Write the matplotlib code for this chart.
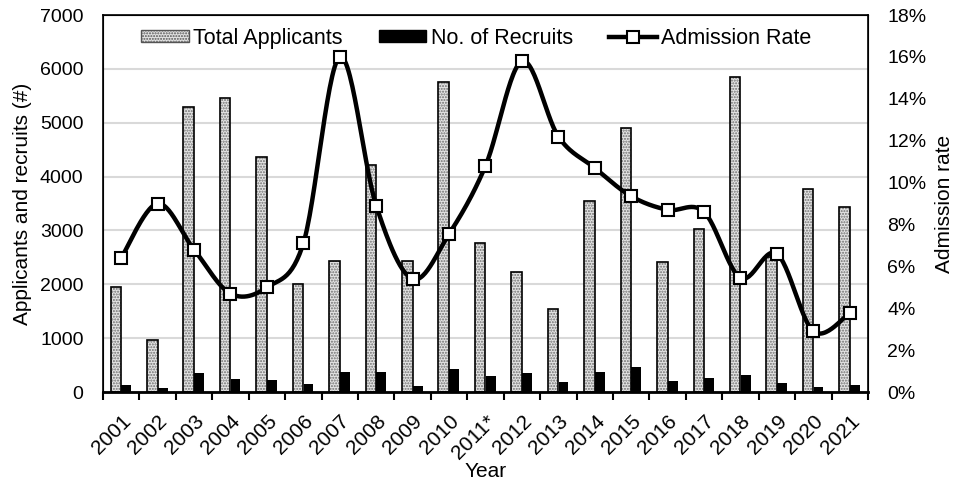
import numpy as np
import matplotlib.pyplot as plt
from matplotlib.lines import Line2D
from matplotlib.patches import Patch

plt.rcParams['font.family'] = ['Liberation Sans', 'DejaVu Sans']
plt.rcParams['hatch.linewidth'] = 1.0

years = ["2001", "2002", "2003", "2004", "2005", "2006", "2007", "2008", "2009", "2010",
         "2011*", "2012", "2013", "2014", "2015", "2016", "2017", "2018", "2019", "2020", "2021"]
applicants = [1950, 960, 5300, 5460, 4370, 2000, 2440, 4220, 2430, 5760,
              2760, 2220, 1550, 3550, 4900, 2410, 3020, 5850, 2500, 3770, 3430]
recruits = [130, 75, 360, 250, 215, 140, 380, 370, 120, 420,
            290, 350, 185, 370, 460, 205, 260, 315, 165, 100, 125]
rate = [6.4, 9.0, 6.8, 4.7, 5.0, 7.1, 16.0, 8.9, 5.4, 7.55,
        10.8, 15.8, 12.2, 10.7, 9.35, 8.7, 8.6, 5.45, 6.6, 2.9, 3.77]


def smooth(x, y, n=30):
    # excel style smoothed line (catmull-rom bezier)
    x = np.asarray(x, float)
    y = np.asarray(y, float)
    px = np.concatenate([[x[0]], x, [x[-1]]])
    py = np.concatenate([[y[0]], y, [y[-1]]])
    xs, ys = [], []
    t = np.linspace(0, 1, n)
    for i in range(1, len(px) - 2):
        p0 = np.array([px[i], py[i]])
        p3 = np.array([px[i + 1], py[i + 1]])
        c1 = p0 + (p3 - np.array([px[i - 1], py[i - 1]])) / 6
        c2 = p3 - (np.array([px[i + 2], py[i + 2]]) - p0) / 6
        b = ((1 - t) ** 3)[:, None] * p0 + (3 * (1 - t) ** 2 * t)[:, None] * c1 \
            + (3 * (1 - t) * t ** 2)[:, None] * c2 + (t ** 3)[:, None] * p3
        xs.extend(b[:, 0])
        ys.extend(b[:, 1])
    return np.array(xs), np.array(ys)


x = np.arange(len(years))
fig = plt.figure(figsize=(9.57, 4.87), dpi=100)
ax = fig.add_axes([0.1076, 0.195, 0.7994, 0.774])

ax.bar(x - 0.145, applicants, 0.29, color='#e4e4e4', edgecolor='#6e6e6e', hatch='......', lw=0, zorder=2)
ax.bar(x - 0.145, applicants, 0.29, fill=False, edgecolor='black', lw=1.2, zorder=3)
ax.bar(x + 0.14, recruits, 0.27, color='black', zorder=3)

ax.set_xlim(-0.5, len(years) - 0.5)
ax.set_ylim(0, 7000)
ax.set_yticks(range(0, 7001, 1000))
ax.yaxis.grid(True, color='#d9d9d9', lw=1.5, zorder=0)
ax.set_axisbelow(True)
ax.set_xticks(np.arange(-0.5, len(years), 1))
ax.set_xticklabels([])
ax.set_xticks(x, minor=True)
ax.set_xticklabels(years, minor=True, rotation=45, ha='right', rotation_mode='anchor', fontsize=15)
ax.tick_params(axis='x', which='major', length=6, width=1.5, direction='out')
ax.tick_params(axis='x', which='minor', length=0, pad=14)
ax.tick_params(axis='y', length=0, labelsize=14, pad=14)
for s in ax.spines.values():
    s.set_linewidth(1.2)
ax.spines['bottom'].set_linewidth(2)
ax.set_ylabel('Applicants and recruits (#)', fontsize=15, labelpad=6)
ax.set_xlabel('Year', fontsize=15, labelpad=0)

ax2 = ax.twinx()
ax2.set_ylim(0, 18)
ax2.set_yticks(range(0, 19, 2))
ax2.set_yticklabels([f'{v}%' for v in range(0, 19, 2)])
ax2.tick_params(axis='y', length=0, labelsize=14, pad=14)
sx, sy = smooth(x, rate)
ax2.plot(sx, sy, color='black', lw=3.2, zorder=4, solid_capstyle='round')
ax2.plot(x, rate, ls='none', marker='s', ms=9, mfc='white', mec='black', mew=1.5, zorder=5)
ax2.set_ylabel('Admission rate', fontsize=15, labelpad=6)

handles = [Patch(facecolor='#e4e4e4', edgecolor='#555555', hatch='......'),
           Patch(facecolor='black', edgecolor='black'),
           Line2D([], [], color='black', lw=3.2, marker='s', ms=9, mfc='white', mec='black', mew=1.5)]
ax.legend(handles, ['Total Applicants', 'No. of Recruits', 'Admission Rate'], ncol=3,
          loc='upper center', bbox_to_anchor=(0.488, 1.018), frameon=False, fontsize=15.5,
          handlelength=2.2, handleheight=0.5, handletextpad=0.2, columnspacing=1.7)

fig.savefig('out.png', dpi=100)
